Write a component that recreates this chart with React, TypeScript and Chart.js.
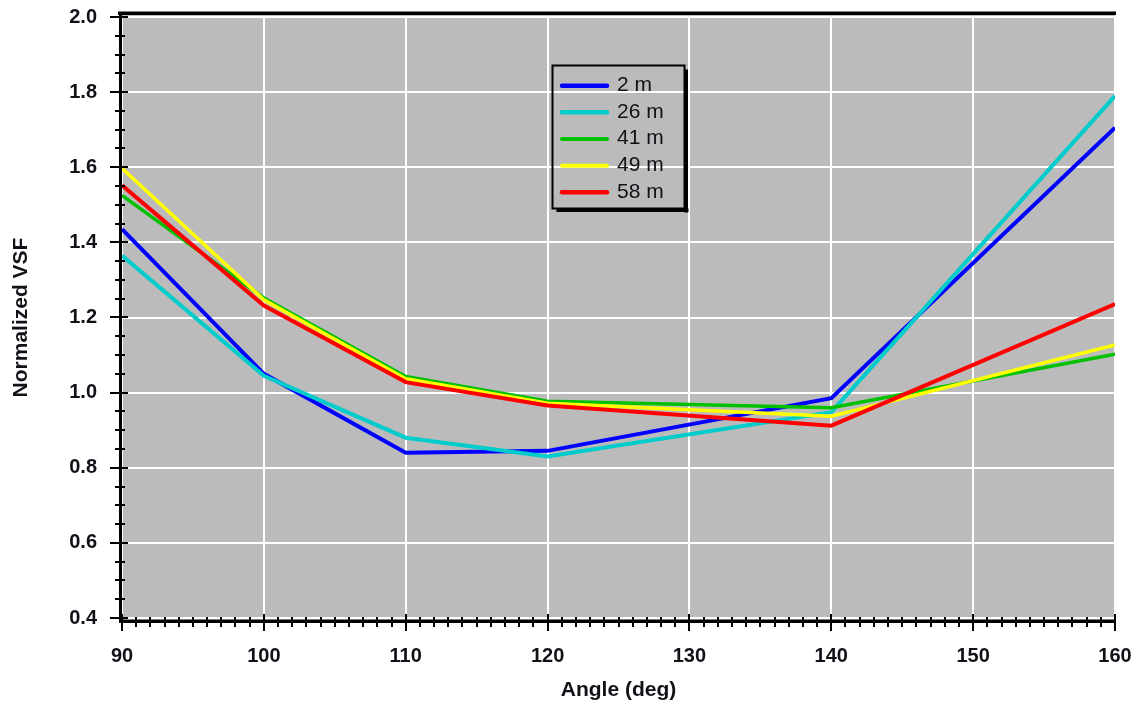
import React, { useEffect, useRef } from "react";
import { Chart, registerables } from "chart.js";

Chart.register(...registerables);

const angles = [90, 100, 110, 120, 140, 160];
const seriesLabels = ["2 m", "26 m", "41 m", "49 m", "58 m"];
const vsf2m = [1.435, 1.05, 0.84, 0.845, 0.985, 1.705];
const vsf26m = [1.365, 1.045, 0.88, 0.83, 0.948, 1.79];
const vsf41m = [1.525, 1.252, 1.043, 0.977, 0.96, 1.102];
const vsf49m = [1.597, 1.247, 1.037, 0.972, 0.937, 1.127];
const vsf58m = [1.552, 1.232, 1.028, 0.966, 0.912, 1.236];
const seriesValues = [vsf2m, vsf26m, vsf41m, vsf49m, vsf58m];
const seriesColors = ["#0000FF", "#00CCCC", "#00C000", "#FFFF00", "#FF0000"];
const seriesWidths = [4, 4, 3.5, 3.5, 4];

const xTickValues = [90, 100, 110, 120, 130, 140, 150, 160];
const yTickValues = [0.4, 0.6, 0.8, 1.0, 1.2, 1.4, 1.6, 1.8, 2.0];
const xTitle = "Angle (deg)";
const yTitle = "Normalized VSF";

const FONT = "'Liberation Sans', Arial, sans-serif";
const TEXT = "#111118";
const PLOT_BG = "#BBBBBB";

const framePlugin = {
  id: "frame",
  beforeDraw(chart: any) {
    const { ctx, chartArea } = chart;
    ctx.save();
    ctx.fillStyle = "#ffffff";
    ctx.fillRect(0, 0, chart.width, chart.height);
    ctx.fillStyle = PLOT_BG;
    ctx.fillRect(chartArea.left, chartArea.top - 2, chartArea.right - chartArea.left, chartArea.bottom - chartArea.top + 2);
    ctx.restore();
  },
  afterDraw(chart: any) {
    const { ctx, chartArea } = chart;
    const xs = chart.scales.x;
    const ys = chart.scales.y;
    const L = chartArea.left;
    const R = chartArea.right;
    const B = chartArea.bottom;
    ctx.save();
    ctx.fillStyle = "#000";
    // top border
    ctx.fillRect(L - 4, 11.5, R - L + 5, 3.5);
    // left axis
    ctx.fillRect(L - 3, 12, 3, B - 12 + 5);
    // bottom axis
    ctx.fillRect(L - 3, B + 1.5, R - L + 4, 3.5);

    ctx.strokeStyle = "#000";
    ctx.lineWidth = 2;
    // x ticks
    for (let v = 90; v <= 160; v += 1) {
      const px = Math.round(xs.getPixelForValue(v));
      const major = v % 10 === 0;
      ctx.beginPath();
      ctx.moveTo(px, major ? B - 4 : B - 1);
      ctx.lineTo(px, major ? B + 13 : B + 9);
      ctx.stroke();
    }
    // y ticks
    for (let i = 0; i <= 32; i++) {
      const v = 0.4 + i * 0.05;
      const py = Math.round(ys.getPixelForValue(v));
      const major = i % 4 === 0;
      ctx.beginPath();
      ctx.moveTo(major ? L - 12 : L - 7, py);
      ctx.lineTo(major ? L + 6 : L + 3, py);
      ctx.stroke();
    }

    // legend
    const bx = 552.5, by = 65.5, bw = 132, bh = 143;
    ctx.fillStyle = "#000";
    ctx.fillRect(bx + bw, by + 4, 3.5, bh);
    ctx.fillRect(bx + 4, by + bh, bw, 3.5);
    ctx.lineWidth = 2;
    ctx.strokeRect(bx, by, bw, bh);
    ctx.font = `21px ${FONT}`;
    ctx.textBaseline = "middle";
    ctx.textAlign = "left";
    chart.data.datasets.forEach((ds: any, i: number) => {
      const y = 85.7 + i * 26.65;
      ctx.strokeStyle = ds.borderColor;
      ctx.lineWidth = ds.borderWidth + 0.5;
      ctx.lineCap = "round";
      ctx.beginPath();
      ctx.moveTo(562, y);
      ctx.lineTo(607, y);
      ctx.stroke();
      ctx.fillStyle = TEXT;
      ctx.fillText(ds.label, 617, y - 0.5);
    });
    ctx.restore();
  },
};

export default function App() {
  const ref = useRef<HTMLCanvasElement | null>(null);
  useEffect(() => {
    if (!ref.current) return;
    const datasets = seriesLabels.map((label, i) => ({
      label,
      data: angles.map((a, j) => ({ x: a, y: seriesValues[i][j] })),
      borderColor: seriesColors[i],
      backgroundColor: seriesColors[i],
      borderWidth: seriesWidths[i],
      pointRadius: 0,
      tension: 0,
      fill: false,
      order: seriesLabels.length - i,
    }));
    const tickFont = { family: FONT, size: 20, weight: "bold" as const };
    const titleFont = { family: FONT, size: 21, weight: "bold" as const };
    const zeroPad = (s: any) => {
      s.paddingLeft = 0;
      s.paddingRight = 0;
      s.paddingTop = 0;
      s.paddingBottom = 0;
    };
    const chart = new Chart(ref.current, {
      type: "line",
      data: { datasets },
      plugins: [framePlugin],
      options: {
        animation: false,
        responsive: false,
        devicePixelRatio: 1,
        layout: { padding: { left: 0, top: 17, right: 19, bottom: 0 } },
        plugins: { legend: { display: false }, tooltip: { enabled: false } },
        scales: {
          x: {
            type: "linear",
            min: 90,
            max: 160,
            afterBuildTicks: (s: any) => {
              s.ticks = xTickValues.map((v) => ({ value: v }));
            },
            afterFit: (s: any) => {
              s.height = 88;
              zeroPad(s);
            },
            ticks: { color: TEXT, font: tickFont, padding: 26, maxRotation: 0, autoSkip: false, callback: (v: any) => String(v) },
            grid: { color: "#ffffff", lineWidth: 2, drawTicks: false },
            border: { display: false },
            title: { display: true, text: xTitle, color: TEXT, font: titleFont, padding: { top: 3, bottom: 3 } },
          },
          y: {
            type: "linear",
            min: 0.4,
            max: 2.0,
            afterBuildTicks: (s: any) => {
              s.ticks = yTickValues.map((v) => ({ value: v }));
            },
            afterFit: (s: any) => {
              s.width = 122;
              zeroPad(s);
            },
            ticks: { color: TEXT, font: tickFont, padding: 25, callback: (v: any) => Number(v).toFixed(1) },
            grid: { color: "#ffffff", lineWidth: 2, drawTicks: false },
            border: { display: false },
            title: { display: true, text: yTitle, color: TEXT, font: titleFont, padding: { top: 9, bottom: 0 } },
          },
        },
      },
    } as any);
    return () => chart.destroy();
  }, []);
  return (
    <div style={{ position: "fixed", left: 0, top: 0, width: 1134, height: 706, background: "#fff" }}>
      <canvas ref={ref} width={1134} height={706} style={{ width: 1134, height: 706, display: "block" }} />
    </div>
  );
}
